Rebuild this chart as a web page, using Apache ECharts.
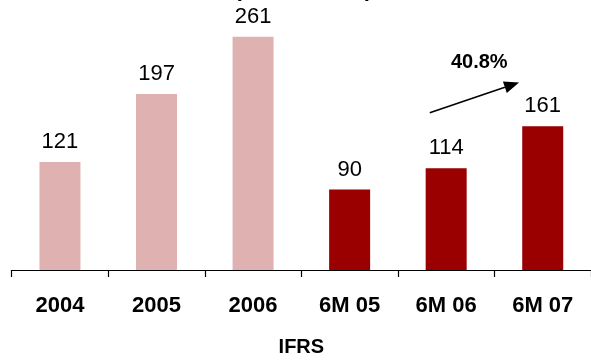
<!DOCTYPE html>
<html>
<head>
<meta charset="utf-8">
<script src="https://cdn.jsdelivr.net/npm/echarts@6/dist/echarts.min.js"></script>
<style>
  html, body { margin: 0; padding: 0; background: #fff; overflow: hidden; }
  #chart { width: 591px; height: 362px; }
</style>
</head>
<body>
<div id="chart"></div>
<script>
// Sales figures per period (annual, then first-half comparisons)
const categories = ['2004', '2005', '2006', '6M 05', '6M 06', '6M 07'];
const annualValues = [121, 197, 261, null, null, null];
const halfYearValues = [null, null, null, 90, 114, 161];
const growthLabel = '40.8%';
const unitLabel = '(EUR million)';
const axisTitle = 'IFRS';

const FONT = 'Liberation Sans, Arial, sans-serif';
const PINK = '#DFB1B1';
const DARK = '#9A0000';

const chart = echarts.init(document.getElementById('chart'), null, { renderer: 'canvas' });

const labelStyle = {
  show: true,
  position: 'top',
  distance: 9,
  color: '#000',
  fontFamily: FONT,
  fontSize: 22
};

chart.setOption({
  animation: false,
  grid: { left: 11.7, right: -4.5, top: 2, bottom: 84, containLabel: false },
  xAxis: {
    type: 'category',
    data: categories,
    name: axisTitle,
    nameLocation: 'middle',
    nameGap: 67,
    nameTextStyle: { fontFamily: FONT, fontSize: 20, fontWeight: 'bold', color: '#000' },
    axisLine: { lineStyle: { color: '#000', width: 1.2 } },
    axisTick: { show: true, length: 7, inside: false, lineStyle: { color: '#000', width: 1.2 } },
    axisLabel: { fontFamily: FONT, fontSize: 22, fontWeight: 'bold', color: '#000', margin: 25 }
  },
  yAxis: {
    type: 'value',
    min: 0,
    max: 300,
    show: false
  },
  series: [
    {
      type: 'bar',
      data: annualValues,
      barWidth: 41,
      barGap: '-100%',
      itemStyle: { color: PINK },
      label: labelStyle
    },
    {
      type: 'bar',
      data: halfYearValues,
      barWidth: 41,
      barGap: '-100%',
      itemStyle: { color: DARK },
      label: labelStyle
    }
  ]
});

// Growth arrow between the two latest half-year periods
function px(cat, val) {
  return chart.convertToPixel({ gridIndex: 0 }, [cat, val]);
}
const p06 = px('6M 06', 176);
const p07 = px('6M 07', 210);
const step = p07[0] - p06[0];
const start = [p06[0] - 0.17 * step, p06[1]];
const end = [p07[0] - 0.245 * step, p07[1]];
const ang = Math.atan2(end[1] - start[1], end[0] - start[0]);
const headLen = 15, headHalf = 6;
const base = [end[0] - headLen * Math.cos(ang), end[1] - headLen * Math.sin(ang)];
const head = [
  end,
  [base[0] + headHalf * Math.sin(ang), base[1] - headHalf * Math.cos(ang)],
  [base[0] - headHalf * Math.sin(ang), base[1] + headHalf * Math.cos(ang)]
];
const labelY = px('6M 07', 232)[1];
const labelX = p06[0] + 0.343 * step;
const topMid = (px('2004', 0)[0] + px('6M 07', 0)[0]) / 2;

chart.setOption({
  graphic: [
    {
      type: 'line',
      shape: { x1: start[0], y1: start[1], x2: base[0], y2: base[1] },
      style: { stroke: '#000', lineWidth: 1.7 }
    },
    {
      type: 'polygon',
      shape: { points: head },
      style: { fill: '#000' }
    },
    {
      type: 'text',
      x: labelX,
      y: labelY,
      style: {
        text: growthLabel,
        fill: '#000',
        font: 'bold 20px ' + FONT,
        align: 'center',
        verticalAlign: 'middle'
      }
    },
    {
      type: 'text',
      x: topMid + 2,
      y: -10,
      style: {
        text: unitLabel,
        fill: '#000',
        font: 'bold 22px ' + FONT,
        align: 'center',
        verticalAlign: 'middle'
      }
    }
  ]
});
</script>
</body>
</html>
